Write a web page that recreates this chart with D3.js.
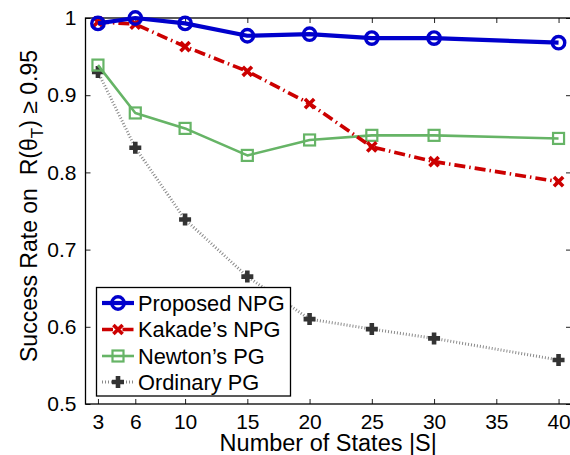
<!DOCTYPE html>
<html>
<head>
<meta charset="utf-8">
<script src="https://cdn.jsdelivr.net/npm/d3@7"></script>
<style>
  html, body { margin: 0; padding: 0; background: #fff; }
  svg { display: block; font-family: "Liberation Sans", Arial, Helvetica, sans-serif; }
</style>
</head>
<body>
<svg id="chart" width="570" height="455"></svg>
<script>
// Number of states |S| on the x axis
const xTicks = [3, 6, 10, 15, 20, 25, 30, 35, 40];
const yTicks = [0.5, 0.6, 0.7, 0.8, 0.9, 1.0];
const yTickLabels = ["0.5", "0.6", "0.7", "0.8", "0.9", "1"];

// state counts that were run (no run at 35)
const xs = [3, 6, 10, 15, 20, 25, 30, 40];

const proposedNPG = [0.993, 1.000, 0.993, 0.977, 0.979, 0.974, 0.974, 0.968];
const kakadeNPG   = [0.995, 0.992, 0.963, 0.931, 0.889, 0.833, 0.814, 0.788];
const newtonPG    = [0.939, 0.877, 0.857, 0.822, 0.842, 0.848, 0.848, 0.844];
const ordinaryPG  = [0.930, 0.832, 0.739, 0.665, 0.610, 0.597, 0.585, 0.557];

const seriesNames = ["Proposed NPG", "Kakade\u2019s NPG", "Newton\u2019s PG", "Ordinary PG"];

const svg = d3.select("#chart");
const pLeft = 85.5, pRight = 571, pTop = 18, pBottom = 404;

const x = d3.scaleLinear().domain([2, 41]).range([pLeft, pRight]);
const y = d3.scaleLinear().domain([0.5, 1]).range([pBottom, pTop]);

// axis box with inward ticks on all four sides
const tickLen = 5;
const fmtY = (d) => yTickLabels[yTicks.indexOf(d)];

svg.append("g").attr("transform", `translate(0,${pBottom})`)
  .call(d3.axisBottom(x).tickValues(xTicks).tickSizeInner(-tickLen).tickSizeOuter(0).tickPadding(10))
  .call(g => g.select(".domain").remove());
svg.append("g").attr("transform", `translate(0,${pTop})`)
  .call(d3.axisTop(x).tickValues(xTicks).tickSizeInner(-tickLen).tickSizeOuter(0).tickFormat(""))
  .call(g => g.select(".domain").remove());
svg.append("g").attr("transform", `translate(${pLeft},0)`)
  .call(d3.axisLeft(y).tickValues(yTicks).tickSizeInner(-tickLen).tickSizeOuter(0).tickPadding(9).tickFormat(fmtY))
  .call(g => g.select(".domain").remove());
svg.append("g").attr("transform", `translate(${pRight},0)`)
  .call(d3.axisRight(y).tickValues(yTicks).tickSizeInner(-tickLen).tickSizeOuter(0).tickFormat(""))
  .call(g => g.select(".domain").remove());

svg.selectAll(".tick text").attr("font-size", 21).attr("fill", "#000")
  .attr("font-family", "Liberation Sans, Arial, sans-serif");
svg.selectAll(".tick line").attr("stroke", "#222").attr("stroke-width", 1);

svg.append("rect").attr("x", pLeft).attr("y", pTop)
  .attr("width", pRight - pLeft).attr("height", pBottom - pTop)
  .attr("fill", "none").attr("stroke", "#000").attr("stroke-width", 1.3);

// axis titles
svg.append("text").attr("x", (pLeft + pRight) / 2).attr("y", 450.5)
  .attr("text-anchor", "middle").attr("font-size", 23.5).text("Number of States |S|");

const yl = svg.append("text")
  .attr("transform", "translate(37,206) rotate(-90)")
  .attr("text-anchor", "middle").attr("font-size", 23);
yl.append("tspan").text("Success Rate on \u00A0R(\u03B8");
yl.append("tspan").attr("font-size", 17).attr("dy", 6).text("T");
yl.append("tspan").attr("dy", -6).text(")\u00A0\u2265 0.95");

// series styles
const styles = [
  { data: proposedNPG, color: "#0000CC", width: 4.2, dash: null, marker: "circle" },
  { data: kakadeNPG,   color: "#CC0000", width: 3.6, dash: "11,4,1.5,4", marker: "x" },
  { data: newtonPG,    color: "#66B466", width: 2.6, dash: null, marker: "square" },
  { data: ordinaryPG,  color: "#8a8a8a", width: 3, dash: "1,2", marker: "plus", markerColor: "#333" }
];

const line = d3.line().x((d, i) => x(xs[i])).y(d => y(d));

function drawMarker(g, type, cx, cy, s) {
  const c = s.markerColor || s.color;
  if (type === "circle") {
    g.append("circle").attr("cx", cx).attr("cy", cy).attr("r", 6.2)
      .attr("fill", "none").attr("stroke", c).attr("stroke-width", 3.4);
  } else if (type === "x") {
    const r = 4.6;
    g.append("path").attr("d", `M${cx - r},${cy - r}L${cx + r},${cy + r}M${cx - r},${cy + r}L${cx + r},${cy - r}`)
      .attr("stroke", c).attr("stroke-width", 3.6).attr("fill", "none");
  } else if (type === "square") {
    const r = 5.5;
    g.append("rect").attr("x", cx - r).attr("y", cy - r).attr("width", 2 * r).attr("height", 2 * r)
      .attr("fill", "none").attr("stroke", c).attr("stroke-width", 2.2);
  } else if (type === "plus") {
    const r = 6;
    g.append("path").attr("d", `M${cx - r},${cy}L${cx + r},${cy}M${cx},${cy - r}L${cx},${cy + r}`)
      .attr("stroke", c).attr("stroke-width", 4.6).attr("fill", "none");
  }
}

// draw from back to front so the proposed curve sits on top
for (let k = styles.length - 1; k >= 0; k--) {
  const s = styles[k];
  const g = svg.append("g");
  g.append("path").datum(s.data).attr("d", line)
    .attr("fill", "none").attr("stroke", s.color).attr("stroke-width", s.width)
    .attr("stroke-dasharray", s.dash).attr("stroke-linejoin", "round");
  s.data.forEach((v, i) => drawMarker(g, s.marker, x(xs[i]), y(v), s));
}

// legend
const lg = svg.append("g");
lg.append("rect").attr("x", 96.5).attr("y", 287.5).attr("width", 194).attr("height", 108.5)
  .attr("fill", "#fff").attr("stroke", "#000").attr("stroke-width", 1.3);
const rowY = [303, 329.5, 356, 382];
styles.forEach((s, i) => {
  const yy = rowY[i];
  lg.append("line").attr("x1", 102).attr("x2", 134).attr("y1", yy).attr("y2", yy)
    .attr("stroke", s.color).attr("stroke-width", s.width).attr("stroke-dasharray", s.dash);
  drawMarker(lg, s.marker, 118, yy, s);
  lg.append("text").attr("x", 138).attr("y", yy + 7.8).attr("font-size", 21.8).text(seriesNames[i]);
});
</script>
</body>
</html>
